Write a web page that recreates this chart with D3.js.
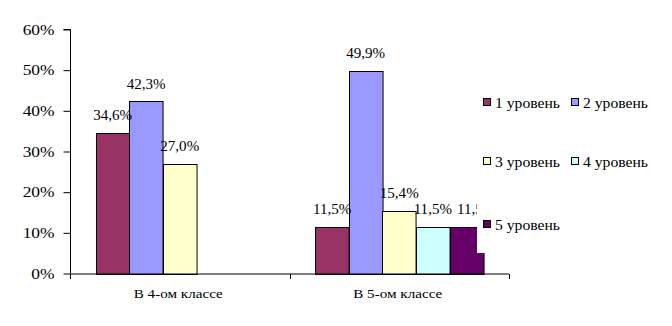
<!DOCTYPE html>
<html>
<head>
<meta charset="utf-8">
<script src="https://cdn.jsdelivr.net/npm/d3@7"></script>
<style>
  body { margin: 0; background: #fff; }
  svg { display: block; }
  text { font-family: "Liberation Serif", "Times New Roman", serif; fill: #000; }
</style>
</head>
<body>
<svg id="chart" width="672" height="326"></svg>
<script>
// Distribution of pupils by level, 4th vs 5th grade
const categories = ["В 4-ом классе", "В 5-ом классе"];
const seriesNames = ["1 уровень", "2 уровень", "3 уровень", "4 уровень", "5 уровень"];
const level1 = [34.6, 11.5];
const level2 = [42.3, 49.9];
const level3 = [27.0, 15.4];
const level4 = [null, 11.5];
const level5 = [null, 11.5];
const yTicks = [0, 10, 20, 30, 40, 50, 60];
const seriesColors = ["#993366", "#9999FF", "#FFFFCC", "#CCFFFF", "#660066"];

const seriesValues = [level1, level2, level3, level4, level5];
const svg = d3.select("#chart");

const plot = { left: 70, right: 509, top: 29.5, bottom: 273.5 };

const x0 = d3.scaleBand().domain(categories).range([plot.left, plot.right]).padding(0);
const x1 = d3.scaleBand().domain(seriesNames).range([0, x0.bandwidth()])
  .paddingInner(0).paddingOuter(0.77);
const y = d3.scaleLinear().domain([0, 60]).range([plot.bottom, plot.top]);

const fmt = v => v.toFixed(1).replace(".", ",") + "%";

// bars
const bars = [];
categories.forEach((c, ci) => {
  seriesNames.forEach((s, si) => {
    const v = seriesValues[si][ci];
    if (v != null) bars.push({ s, si, c, v });
  });
});

svg.append("g").selectAll("rect").data(bars).join("rect")
  .attr("x", d => Math.round(x0(d.c) + x1(d.s)) + 0.5)
  .attr("y", d => Math.round(y(d.v)) + 0.5)
  .attr("width", x1.bandwidth())
  .attr("height", d => Math.round(y(0)) - Math.round(y(d.v)))
  .attr("fill", d => seriesColors[d.si])
  .attr("stroke", "#000")
  .attr("stroke-width", 1);

// value labels; a label on the same line as its left neighbour is nudged right
const labelScale = 1.04;
const labelSize = 14.5;
const labelGroup = svg.append("g");
let prevLabel = null;
bars.forEach(d => {
  const g = labelGroup.append("g");
  const t = g.append("text")
    .attr("text-anchor", "middle")
    .attr("font-size", labelSize)
    .text(fmt(d.v));
  const w = t.node().getComputedTextLength() * labelScale;
  let cx = x0(d.c) + x1(d.s) + x1.bandwidth() / 2;
  const ly = y(d.v) - 12.5;
  if (prevLabel && prevLabel.c === d.c && Math.abs(prevLabel.y - ly) < 10 &&
      cx - w / 2 < prevLabel.end + 5) {
    cx = prevLabel.end + 5 + w / 2;
  }
  prevLabel = { c: d.c, y: ly, end: cx + w / 2 };
  g.attr("transform", `translate(${cx},${ly}) scale(${labelScale},1)`);
});

// y axis
const tickScale = 1.2;
const yAxis = svg.append("g")
  .attr("transform", `translate(${plot.left + 0.5},0)`)
  .call(d3.axisLeft(y).tickValues(yTicks).tickSize(7).tickPadding(9)
    .tickFormat(d => d + "%"));
yAxis.select(".domain").attr("stroke", "#000").attr("d", `M-7,${plot.top}H0V${plot.bottom}`);
yAxis.selectAll(".tick line").attr("stroke", "#000");
yAxis.selectAll(".tick text")
  .attr("font-size", 14.5)
  .attr("x", -16 / tickScale)
  .attr("transform", `scale(${tickScale},1)`);

// x axis
const xAxis = svg.append("g")
  .attr("transform", `translate(0,${plot.bottom + 0.5})`);
xAxis.append("line")
  .attr("x1", plot.left).attr("x2", plot.right)
  .attr("stroke", "#000");
const bounds = [plot.left, ...categories.map(c => x0(c) + x0.bandwidth())];
xAxis.selectAll("line.sep").data(bounds).join("line")
  .attr("class", "sep")
  .attr("x1", d => Math.round(d) + 0.5).attr("x2", d => Math.round(d) + 0.5)
  .attr("y1", 0).attr("y2", 5)
  .attr("stroke", "#000");
const catScale = 1.12;
xAxis.selectAll("g.cat").data(categories).join("g")
  .attr("class", "cat")
  .attr("transform", c => `translate(${x0(c) + x0.bandwidth() / 2 - 1.5},23.5) scale(${catScale},1)`)
  .append("text")
  .attr("text-anchor", "middle")
  .attr("font-size", 13.5)
  .text(c => c);

// legend panel
svg.append("rect")
  .attr("x", 477).attr("y", 75).attr("width", 195).attr("height", 178)
  .attr("fill", "#fff");

const legendPos = [
  { x: 483, y: 98 }, { x: 571, y: 98 },
  { x: 483, y: 157 }, { x: 571, y: 157 },
  { x: 483, y: 220 }
];
const legendScale = 1.08;
const leg = svg.append("g").selectAll("g").data(seriesNames).join("g")
  .attr("transform", (d, i) => `translate(${legendPos[i].x},${legendPos[i].y})`);
leg.append("rect")
  .attr("x", 0.5).attr("y", 0.5).attr("width", 7).attr("height", 7)
  .attr("fill", (d, i) => seriesColors[i])
  .attr("stroke", "#000");
leg.append("g")
  .attr("transform", `translate(12,10) scale(${legendScale},1)`)
  .append("text")
  .attr("font-size", 14.5)
  .text(d => d);
</script>
</body>
</html>
